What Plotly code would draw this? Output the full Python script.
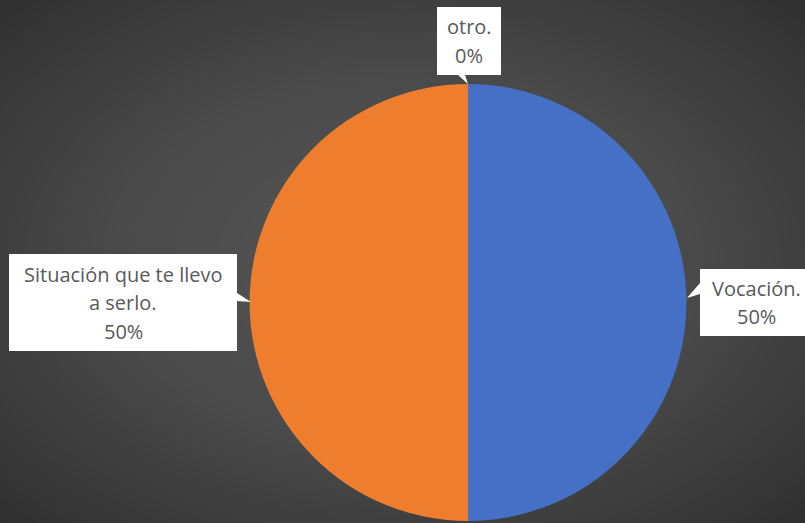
import numpy as np
import plotly.graph_objects as go

# Survey answers: reason for choosing the profession
categories = ["Vocación.", "Situación que te llevo a serlo.", "otro."]
shares = [50, 50, 0]
label_lines = [
    ["Vocación.", "50%"],
    ["Situación que te llevo", "a serlo.", "50%"],
    ["otro.", "0%"],
]
slice_colors = ["#4570C6", "#EE7D2E", "#A5A5A5"]

W, H = 805, 523
LINE_H = 28.5


def px(x):
    return x / W


def py(y):
    return 1 - y / H


fig = go.Figure()

# Radial grey backdrop (lighter in the middle, darker towards the corners)
gx = np.linspace(0, 1, 61)
gy = np.linspace(0, 1, 41)
XX, YY = np.meshgrid(gx * W, gy * H)
dist = np.sqrt(((XX - W / 2) / (W / 2)) ** 2 + ((YY - H / 2) / (H / 2)) ** 2) / np.sqrt(2)
fig.add_trace(go.Heatmap(
    x=gx, y=gy, z=dist, zsmooth="best", showscale=False, hoverinfo="skip",
    colorscale=[[0, "#575757"], [0.5, "#4a4a4a"], [1, "#303030"]], zmin=0, zmax=1,
))

# Pie (centre at pixel 468,302.5 with radius 218.5)
cx, cy, r = 468, 302.5, 218.5
fig.add_trace(go.Pie(
    labels=categories, values=shares, sort=False, direction="clockwise", rotation=0,
    marker=dict(colors=slice_colors, line=dict(width=0)),
    textinfo="none", hoverinfo="label+percent",
    domain=dict(x=[px(cx - r), px(cx + r)], y=[py(cy + r), py(cy - r)]),
))

# Callout boxes: (left, top, right, bottom) in pixels
boxes = [
    (700, 269, 812, 336),
    (9, 254, 237, 351),
    (437, 7, 501, 75),
]
# Callout pointers: triangle (base point a, base point b, tip) in pixels
pointers = [
    ((700, 283), (700, 294), (687, 298)),
    ((237, 293), (237, 301), (251, 302)),
    ((458, 75), (465, 75), (468, 84)),
]

for (x0, y0, x1, y1), lines in zip(boxes, label_lines):
    fig.add_shape(type="rect", xref="paper", yref="paper",
                  x0=px(x0), x1=px(x1), y0=py(y1), y1=py(y0),
                  fillcolor="white", line=dict(width=0), layer="above")
    mid_x = (x0 + x1) / 2
    mid_y = (y0 + y1) / 2
    n = len(lines)
    for i, line in enumerate(lines):
        ly = mid_y + (i - (n - 1) / 2) * LINE_H
        fig.add_annotation(
            x=px(mid_x), y=py(ly), xref="paper", yref="paper",
            xanchor="center", yanchor="middle",
            text=line, showarrow=False,
            font=dict(family="Open Sans", size=20, color="#595959"),
        )

for a, b, t in pointers:
    path = "M {} {} L {} {} L {} {} Z".format(px(a[0]), py(a[1]), px(b[0]), py(b[1]), px(t[0]), py(t[1]))
    fig.add_shape(type="path", path=path, xref="paper", yref="paper",
                  fillcolor="white", line=dict(width=0), layer="above")

fig.update_layout(
    width=W, height=H, margin=dict(l=0, r=0, t=0, b=0),
    paper_bgcolor="#404040", plot_bgcolor="#404040", showlegend=False,
    xaxis=dict(visible=False, range=[0, 1], domain=[0, 1], fixedrange=True),
    yaxis=dict(visible=False, range=[0, 1], domain=[0, 1], fixedrange=True),
)

fig.write_html("out.html")
